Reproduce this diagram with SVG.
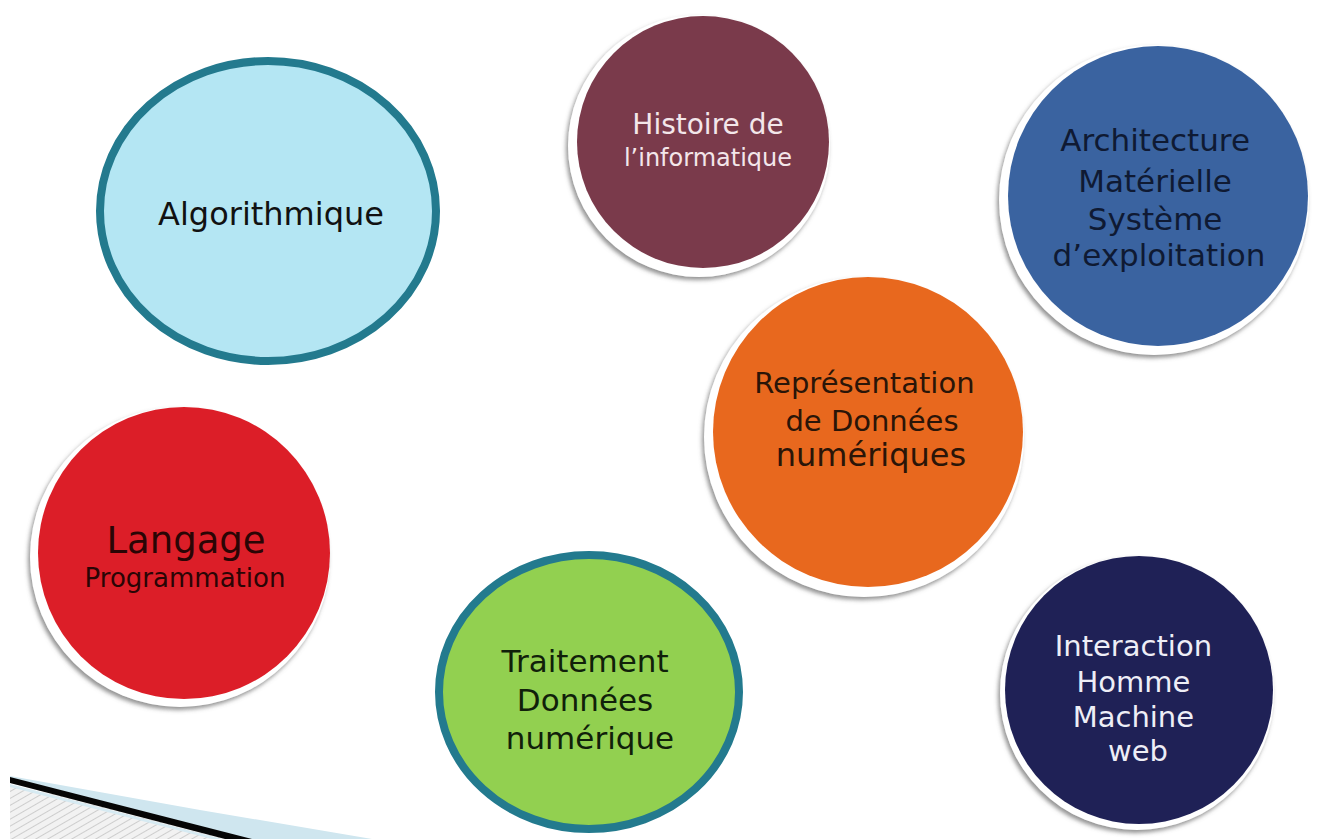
<svg xmlns="http://www.w3.org/2000/svg" width="1320" height="839" viewBox="0 0 1320 839">
<defs>
<filter id="sh" x="-20%" y="-20%" width="140%" height="140%">
<feGaussianBlur in="SourceAlpha" stdDeviation="2"/>
<feOffset dx="-2" dy="3" result="b"/>
<feFlood flood-color="#6f6f6f" flood-opacity="0.75"/>
<feComposite in2="b" operator="in"/>
<feMerge><feMergeNode/><feMergeNode in="SourceGraphic"/></feMerge>
</filter>
<pattern id="hatch" width="6" height="6" patternUnits="userSpaceOnUse" patternTransform="rotate(60)">
<rect width="6" height="6" fill="#f2f2f2"/>
<line x1="0" y1="0" x2="0" y2="6" stroke="#cdcdcd" stroke-width="2"/>
</pattern>
</defs>
<style>
text{font-family:"DejaVu Sans","Liberation Sans",sans-serif;text-anchor:middle}
.ring{fill:#ffffff;filter:url(#sh)}
.dark{fill:#111111}
</style>
<rect width="1320" height="839" fill="#ffffff"/>
<g id="decor">
<polygon points="10,786 10,839 285,839" fill="url(#hatch)"/>
<polygon points="10,776 200,810 372,839 250,839 10,783" fill="#cfe6ef"/>
<polygon points="10,777 10,783 225,839 252,839" fill="#050505"/>
<polygon points="10,784 10,787 212,839 222,839" fill="#d6eaf2"/>
</g>
<g id="algorithmique">
<ellipse cx="268" cy="211" rx="168" ry="150" fill="#b4e6f3" stroke="#237a8e" stroke-width="8"/>
<text x="271" y="225" font-size="32" class="dark">Algorithmique</text>
</g>
<g id="histoire">
<circle cx="699" cy="146" r="131" class="ring"/>
<circle cx="703" cy="142" r="126" fill="#7a3a4b"/>
<text x="708" y="134" font-size="28" fill="#f3e6ea">Histoire de</text>
<text x="708" y="166" font-size="24" fill="#f3e6ea">l’informatique</text>
</g>
<g id="architecture">
<circle cx="1154" cy="200" r="155" class="ring"/>
<circle cx="1158" cy="196" r="150" fill="#3a63a0"/>
<text fill="#0f1a33" font-size="31">
<tspan x="1160" y="151">Architecture</tspan>
<tspan x="1160" y="192">Matérielle</tspan>
<tspan x="1160" y="230">Système</tspan>
<tspan x="1159" y="266">d’exploitation</tspan>
</text>
</g>
<g id="representation">
<circle cx="864" cy="437" r="160" class="ring"/>
<circle cx="868" cy="432" r="155" fill="#e8681e"/>
<text fill="#2a1508" font-size="29">
<tspan x="869" y="393">Représentation</tspan>
<tspan x="872" y="431">de Données</tspan>
</text>
<text x="871" y="466" font-size="32" fill="#2a1508">numériques</text>
</g>
<g id="langage">
<circle cx="180" cy="557" r="150" class="ring"/>
<circle cx="184" cy="553" r="146" fill="#dc1e28"/>
<text x="186" y="553" font-size="37" fill="#2a0505">Langage</text>
<text x="185" y="587" font-size="26" fill="#2a0505">Programmation</text>
</g>
<g id="traitement">
<ellipse cx="589" cy="692" rx="150" ry="137" fill="#92d050" stroke="#237a8e" stroke-width="8"/>
<text fill="#10200a" font-size="31">
<tspan x="590" y="672">Traitement</tspan>
<tspan x="590" y="711">Données</tspan>
<tspan x="590" y="749">numérique</tspan>
</text>
</g>
<g id="interaction">
<circle cx="1137" cy="693" r="137" class="ring"/>
<circle cx="1139" cy="690" r="134" fill="#1f2156"/>
<text fill="#eeeef6" font-size="29">
<tspan x="1138" y="656">Interaction</tspan>
<tspan x="1138" y="692">Homme</tspan>
<tspan x="1138" y="727">Machine</tspan>
<tspan x="1138" y="761">web</tspan>
</text>
</g>
<g id="connectors"></g>
</svg>
